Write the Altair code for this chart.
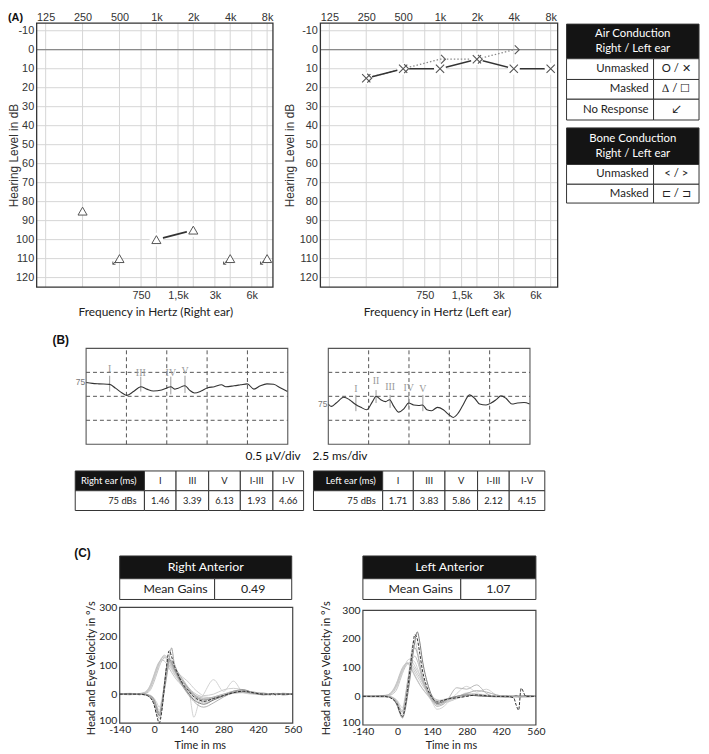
import altair as alt
import pandas as pd

# ============================ DATA ============================
# (A) pure-tone audiograms
FREQ_MAIN = [125, 250, 500, 1000, 2000, 4000, 8000]
FREQ_MID = [750, 1500, 3000, 6000]
DB_TICKS = [-10, 0, 10, 20, 30, 40, 50, 60, 70, 80, 90, 100, 110, 120]

RIGHT_FREQ = [250, 500, 1000, 2000, 4000, 8000]
RIGHT_DB = [85, 110, 100, 95, 110, 110]
RIGHT_NO_RESPONSE = [False, True, False, False, True, True]
RIGHT_JOINED = [False, False, True, True, False, False]

LEFT_AIR_FREQ = [250, 500, 1000, 2000, 4000, 8000]
LEFT_AIR_DB = [15, 10, 10, 5, 10, 10]
LEFT_BONE_FREQ = [250, 500, 1000, 2000, 4000]
LEFT_BONE_DB = [15, 10, 5, 5, 0]

AIR_TITLE = "Air Conduction\nRight / Left ear"
AIR_LABELS = ["Unmasked", "Masked", "No Response"]
AIR_SYMBOLS = ["O / ✕", "∆ / ☐", "↙"]
BONE_TITLE = "Bone Conduction\nRight / Left ear"
BONE_LABELS = ["Unmasked", "Masked"]
BONE_SYMBOLS = ["< / >", "⊏ / ⊐"]

# (B) auditory brainstem responses
ABR_LEVEL = "75"
ABR_DIV_MS = [2.5, 5.0, 7.5, 10.0]
ABR_DIV_UV = [-0.5, 0.0, 0.5]
ABR_R_MS = [0.0, 0.39, 0.80, 1.46, 1.82, 2.23, 2.53, 2.94, 3.39, 3.76, 4.17, 4.68, 5.04,
            5.25, 5.49, 5.70, 6.13, 6.41, 6.72, 7.13, 7.54, 7.95, 8.39, 8.66, 9.17, 9.58,
            9.99, 10.40, 10.80, 11.21, 11.62, 12.03, 12.48]
ABR_R_UV = [0.29, 0.27, 0.26, 0.25, 0.17, 0.07, 0.02, 0.10, 0.20, 0.15, 0.11, 0.13, 0.18,
            0.20, 0.15, 0.17, 0.22, 0.13, 0.07, 0.11, 0.18, 0.20, 0.24, 0.20, 0.22, 0.24,
            0.26, 0.15, 0.22, 0.26, 0.25, 0.18, 0.10]
ABR_R_PEAKS = ["I", "III", "IV", "V"]
ABR_R_PEAK_MS = [1.46, 3.39, 5.25, 6.13]
ABR_R_PEAK_LABEL = [0.57, 0.48, 0.48, 0.52]
ABR_R_PEAK_TOP = [0.43, 0.41, 0.41, 0.43]
ABR_R_PEAK_BOTTOM = [0.10, 0.10, 0.04, 0.07]

ABR_L_MS = [0.0, 0.18, 0.49, 0.96, 1.31, 1.65, 2.02, 2.39, 2.74, 2.96, 3.25, 3.55, 3.80,
            4.06, 4.37, 4.68, 4.98, 5.29, 5.60, 5.84, 6.11, 6.41, 6.76, 7.13, 7.43, 7.74,
            8.05, 8.35, 8.76, 9.07, 9.38, 9.78, 10.09, 10.40, 10.70, 11.01, 11.38, 11.72,
            12.13, 12.48]
ABR_L_UV = [-0.16, -0.21, -0.14, -0.02, -0.07, -0.16, -0.23, -0.28, -0.11, 0.00, -0.07,
            -0.11, -0.07, -0.21, -0.33, -0.26, -0.14, -0.18, -0.19, -0.18, -0.28, -0.30,
            -0.23, -0.28, -0.37, -0.44, -0.35, -0.18, 0.03, -0.04, -0.16, -0.18, -0.14,
            -0.07, 0.01, -0.04, -0.16, -0.14, -0.13, -0.16]
ABR_L_PEAKS = ["I", "II", "III", "IV", "V"]
ABR_L_PEAK_MS = [1.71, 2.96, 3.83, 4.98, 5.86]
ABR_L_PEAK_LABEL = [0.15, 0.31, 0.20, 0.18, 0.15]
ABR_L_PEAK_TOP = [0.03, 0.13, 0.03, 0.03, 0.03]
ABR_L_PEAK_BOTTOM = [-0.31, -0.14, -0.24, -0.24, -0.31]

ABR_COLUMNS = ["I", "III", "V", "I-III", "I-V"]
ABR_RIGHT_LAT = [1.46, 3.39, 6.13, 1.93, 4.66]
ABR_LEFT_LAT = [1.71, 3.83, 5.86, 2.12, 4.15]

# (C) video head impulse test
VHIT_T = [-140, -100, -60, -40, -20, 0, 10, 20, 30, 40, 50, 60, 70, 80, 90, 100, 120, 140,
          160, 180, 200, 240, 280, 320, 360, 400, 440, 470, 480, 490, 500, 520, 560]
VHIT_X_TICKS = [-140, 0, 140, 280, 420, 560]
VHIT_Y_TICKS = [-100, 0, 100, 200, 300]

RA_TRACES = {
    "head 1": [0, 2, 0, 3, 15, 55, 80, 105, 125, 135, 130, 115, 95, 80, 68, 55, 35, 15, 0, -10, -15, -10, 0, 5, 8, 3, 0, 2, 0, -2, 0, -2, 0],
    "head 2": [-2, 0, 2, 5, 20, 65, 90, 110, 125, 128, 120, 100, 85, 70, 58, 45, 20, 0, -15, -25, -30, -20, -8, 5, 10, 5, 0, -2, 2, 0, -2, 0, 2],
    "head 3": [3, -2, 0, 2, 10, 45, 70, 95, 115, 125, 128, 118, 100, 85, 72, 60, 38, 20, 5, -5, -10, -12, -5, 3, 5, 2, -3, 0, 2, 3, 0, 3, 0],
    "head 4": [0, 1, -1, 4, 18, 60, 85, 108, 122, 132, 125, 110, 92, 75, 62, 50, 25, 5, -8, -18, -25, -18, -5, 8, 12, 6, 2, 0, -2, 0, 3, -3, 1],
    "head 5": [0, 0, 2, 6, 25, 70, 95, 112, 118, 115, 105, 90, 75, 62, 50, 40, 25, 10, -2, -10, -15, -12, -4, 4, 6, 2, 0, -2, 0, 0, -2, 0, 0],
    "eye 1": [0, 0, 0, -2, -10, -40, -75, -100, -60, 20, 100, 150, 130, 100, 80, 60, 30, 10, -10, -20, -25, -15, -5, 5, 10, 5, 0, 0, 2, -2, 0, 0, 0],
    "eye 2": [0, 2, -2, 0, -8, -30, -55, -75, -40, 30, 95, 120, 110, 90, 72, 55, 25, 0, -20, -30, -35, -20, -5, 10, 15, 5, -2, 0, 2, 0, 2, 0, 0],
    "eye 3": [2, 0, 0, -3, -5, -25, -50, -70, -50, 10, 80, 115, 105, 85, 68, 50, 20, -5, -25, -40, -45, -30, -10, 5, 10, 8, 0, -2, 0, 2, 0, -2, 0],
    "eye 4": [0, -2, 2, 0, -6, -35, -65, -85, -55, 15, 85, 125, 115, 95, 82, 70, 45, 20, 0, -15, -20, -10, 0, 10, 12, 5, 3, 0, -2, 0, 2, -2, 0],
    "eye 5": [0, 0, -2, 2, -4, -20, -40, -55, -30, 25, 70, 95, 90, 75, 60, 50, 30, 10, -80, -30, 0, 50, 10, 45, 5, 0, 5, 0, 3, -2, 0, 2, -2],
    "eye 6": [0, 3, 0, -2, -3, -15, -30, -45, -20, 30, 75, 100, 95, 85, 80, 70, 55, 40, 20, 5, -5, 0, 15, 20, 15, 5, 0, 0, 0, -3, 0, 3, 0],
    "eye 7": [0, 0, 0, 0, -5, -20, -45, -65, -35, 10, 60, 120, 160, 110, 85, 65, 40, 15, -5, -15, -20, -15, -5, 5, 8, 2, 0, -2, 0, 0, 2, 0, 0],
}
LA_TRACES = {
    "head 1": [0, 2, 0, 3, 12, 40, 65, 88, 105, 115, 112, 100, 85, 70, 55, 40, 15, -5, -15, -12, -8, 0, 5, 3, 0, 2, 0, -2, 0, 2, 0, -2, 0],
    "head 2": [-2, 0, 3, 5, 18, 50, 75, 95, 110, 118, 110, 92, 75, 58, 42, 28, 5, -15, -25, -20, -10, 0, 8, 5, 2, 0, -3, 0, 2, 0, -2, 0, 0],
    "head 3": [2, -2, 0, 2, 8, 30, 55, 80, 100, 112, 118, 108, 95, 80, 65, 50, 22, 0, -12, -15, -10, -3, 3, 6, 2, -2, 0, 3, 0, -3, 2, 0, 2],
    "head 4": [0, 0, -2, 4, 15, 45, 70, 92, 108, 125, 130, 120, 105, 90, 75, 55, 25, 2, -18, -22, -15, -5, 12, 8, 3, 0, 2, 0, -2, 0, 0, 3, 0],
    "head 5": [0, 1, 2, 5, 20, 55, 80, 100, 112, 115, 105, 88, 70, 55, 40, 28, 8, -8, -18, -22, -20, -8, 2, 5, 0, -2, 0, 0, 2, 0, -3, 0, 0],
    "eye 1": [0, 0, 0, -2, -10, -30, -55, -70, -40, 20, 90, 160, 215, 200, 150, 95, 30, -5, -20, -15, -10, -5, 0, 5, 2, 0, 0, -5, -30, -48, 28, 0, 0],
    "eye 2": [0, 0, 2, 0, -8, -35, -60, -75, -50, 0, 60, 130, 190, 225, 190, 130, 50, 0, -25, -20, -10, 0, 5, 2, 0, 0, -2, 0, 3, 0, 0, 2, 0],
    "eye 3": [2, 0, -2, 0, -5, -25, -45, -55, -20, 40, 100, 150, 170, 150, 110, 70, 20, -10, -30, -25, -12, -2, 10, 20, 15, 5, 0, 0, -2, 0, 0, -2, 0],
    "eye 4": [0, 2, 0, -3, -6, -20, -40, -50, -15, 45, 95, 130, 140, 125, 95, 60, 15, -15, -35, -30, -15, 30, 25, 40, 10, 0, 3, 0, 0, -2, 2, 0, 0],
    "eye 5": [0, -2, 3, 0, -4, -15, -30, -40, -5, 50, 100, 125, 120, 100, 75, 50, 12, -20, -45, -40, -25, 10, 35, 15, 25, 5, 0, 2, 0, 0, -2, 0, 3],
    "eye 6": [0, 0, 0, 2, -3, -25, -50, -65, -30, 30, 110, 175, 195, 160, 115, 75, 25, -8, -28, -30, -18, -5, 0, 8, 5, 0, 0, -2, 0, 2, 0, 0, 0],
}
GAIN_RIGHT = 0.49
GAIN_LEFT = 1.07

# ============================ STYLE / LAYOUT ============================
W, H = 701, 746
GRID = "#d6d6d6"
TXT = "#222222"
F_LO = 105.6
DB_DOMAIN = [-14, 125]
A_TOP, A_BOT = 11, 278
ABR_TOP, ABR_BOT = 340, 437

ARROW_PATH = "M-0.66,0.46L-1.34,1.14M-1.34,1.14L-1.34,0.6M-1.34,1.14L-0.8,1.14"
X_PATH = "M-1,-1L1,1M-1,1L1,-1"
GT_PATH = "M0.2,-0.9L1.1,0L0.2,0.9"

TRACE_STYLE = {
    "head 1": ("#c6c6c6", "light"), "head 2": ("#c6c6c6", "light"),
    "head 3": ("#bdbdbd", "light"), "head 4": ("#c6c6c6", "light"),
    "head 5": ("#bdbdbd", "light"), "eye 5": ("#cdcdcd", "light"),
    "eye 6": ("#c9c9c9", "light"), "eye 3": ("#a6a6a6", "mid"),
    "eye 4": ("#b0b0b0", "mid"), "eye 7": ("#9a9a9a", "mid"),
    "eye 2": ("#6e6e6e", "mid"), "eye 1": ("#2e2e2e", "dark"),
}

ONE = pd.DataFrame({"k": [0]})


def audiogram(x0, x1, f_hi, y_title_x, x_title_cx, x_title):
    xs = alt.Scale(type="log", domain=[F_LO, f_hi], range=[x0, x1], nice=False)
    ys = alt.Scale(domain=DB_DOMAIN, range=[A_TOP, A_BOT], nice=False, zero=False)
    lab = dict(grid=False, domain=False, ticks=False, labelFont="Liberation Sans",
               labelFontSize=11, labelColor="#333", labelFlush=False, labelOverlap=False)
    kexpr = "datum.value < 1000 ? '' + datum.value : replace('' + datum.value / 1000, '.', ',') + 'k'"
    hgrid = alt.Chart(pd.DataFrame({"db": DB_TICKS})).mark_rule(color=GRID, strokeWidth=1).encode(
        x=alt.XDatum(F_LO, scale=xs, axis=None), x2=alt.X2Datum(f_hi),
        y=alt.Y("db:Q", scale=ys, axis=alt.Axis(
            orient="left", offset=-x0, values=DB_TICKS, labelExpr="'' + datum.value", labelPadding=3,
            title="Hearing Level in dB", titleFont="Liberation Sans", titleFontSize=12,
            titleFontWeight="normal", titleColor="#333", titleAngle=270, titleAlign="center",
            titleBaseline="middle", titleX=y_title_x - x0, titleY=(A_TOP + A_BOT) / 2, **lab)))
    vgrid = alt.Chart(pd.DataFrame({"f": FREQ_MAIN})).mark_rule(color=GRID, strokeWidth=1).encode(
        x=alt.X("f:Q", scale=xs, axis=alt.Axis(
            orient="top", offset=-A_TOP, values=FREQ_MAIN, labelExpr=kexpr, labelPadding=1,
            title=None, **lab)),
        y=alt.YDatum(DB_DOMAIN[0], scale=ys, axis=None), y2=alt.Y2Datum(DB_DOMAIN[1]))
    vgrid2 = alt.Chart(pd.DataFrame({"f": FREQ_MID})).mark_rule(color=GRID, strokeWidth=1).encode(
        x=alt.X("f:Q", scale=xs, axis=alt.Axis(
            orient="bottom", offset=A_BOT - H, values=FREQ_MID, labelExpr=kexpr, labelPadding=3,
            title=x_title, titleFont="Lato", titleFontSize=12, titleFontWeight="normal",
            titleColor=TXT, titleX=x_title_cx, titleY=303 - A_BOT, titleAlign="center",
            titleBaseline="middle", **lab)),
        y=alt.YDatum(DB_DOMAIN[0], scale=ys, axis=None), y2=alt.Y2Datum(DB_DOMAIN[1]))
    zero = alt.Chart(ONE).mark_rule(color="#8a8a8a", strokeWidth=1.3).encode(
        x=alt.XDatum(F_LO, scale=xs, axis=None), x2=alt.X2Datum(f_hi),
        y=alt.YDatum(0, scale=ys, axis=None))
    frame = alt.Chart(ONE).mark_rect(fillOpacity=0, stroke="#333", strokeWidth=1.3).encode(
        x=alt.XDatum(F_LO, scale=xs, axis=None), x2=alt.X2Datum(f_hi),
        y=alt.YDatum(DB_DOMAIN[0], scale=ys, axis=None), y2=alt.Y2Datum(DB_DOMAIN[1]))
    return xs, ys, [hgrid, vgrid, vgrid2, zero], frame


# ---- right audiogram
xs, ys, base_layers, frame = audiogram(29, 268, 8925, 6, 149, "Frequency in Hertz (Right ear)")
rdf = pd.DataFrame({"f": RIGHT_FREQ, "db": RIGHT_DB, "nr": RIGHT_NO_RESPONSE, "j": RIGHT_JOINED})
rbase = alt.Chart(rdf).encode(x=alt.X("f:Q", scale=xs, axis=None), y=alt.Y("db:Q", scale=ys, axis=None))
r_layers = base_layers + [
    rbase.transform_filter("datum.j").mark_line(color="#333", strokeWidth=1.6),
    rbase.transform_filter("datum.j").mark_point(shape="circle", filled=True, color="white", opacity=1, size=190),
    rbase.mark_point(shape="triangle-up", filled=True, fill="white", stroke="#555", strokeWidth=1, opacity=1, size=85),
    rbase.transform_filter("datum.nr").mark_point(shape=ARROW_PATH, filled=False, stroke="#555", strokeWidth=1, opacity=1, size=100),
    frame,
]
aud_right = alt.layer(*r_layers).resolve_axis(x="independent", y="independent")

# ---- left audiogram
xs, ys, base_layers, frame = audiogram(316, 556, 9120, 285, 434, "Frequency in Hertz (Left ear)")
air = alt.Chart(pd.DataFrame({"f": LEFT_AIR_FREQ, "db": LEFT_AIR_DB})).encode(
    x=alt.X("f:Q", scale=xs, axis=None), y=alt.Y("db:Q", scale=ys, axis=None))
bone = alt.Chart(pd.DataFrame({"f": LEFT_BONE_FREQ, "db": LEFT_BONE_DB})).encode(
    x=alt.X("f:Q", scale=xs, axis=None), y=alt.Y("db:Q", scale=ys, axis=None))
l_layers = base_layers + [
    bone.mark_line(color="#8a8a8a", strokeWidth=1.3, strokeDash=[1.5, 2]),
    air.mark_line(color="#333", strokeWidth=1.6),
    air.mark_point(shape="circle", filled=True, color="white", opacity=1, size=150),
    air.mark_point(shape=X_PATH, filled=False, stroke="#555", strokeWidth=1.1, opacity=1, size=70),
    bone.mark_point(shape=GT_PATH, filled=False, stroke="#555", strokeWidth=1.1, opacity=1, size=100),
    frame,
]
aud_left = alt.layer(*l_layers).resolve_axis(x="independent", y="independent")


# ---- tables
def table(x_left, y_top, col_w, row_h, cells, font_size, pad, line_height=15):
    ce = [0]
    for w in col_w:
        ce.append(ce[-1] + w)
    re_ = [0]
    for h in row_h:
        re_.append(re_[-1] + h)
    xs_ = alt.Scale(domain=[0, ce[-1]], range=[x_left, x_left + ce[-1]], nice=False, zero=False)
    ys_ = alt.Scale(domain=[0, re_[-1]], range=[y_top, y_top + re_[-1]], nice=False, zero=False)
    recs, trecs = [], []
    for r, c0, c1, text, dark, align in cells:
        x0, x1 = ce[c0], ce[c1]
        tx = {"left": x0 + pad, "center": (x0 + x1) / 2, "right": x1 - pad}[align]
        recs.append(dict(x0=x0, x1=x1, y0=re_[r], y1=re_[r + 1],
                         fill="#141414" if dark else "#ffffff"))
        lines = text.split("\n")
        cy = (re_[r] + re_[r + 1]) / 2
        for k, ln in enumerate(lines):
            trecs.append(dict(tx=tx, ty=cy + (k - (len(lines) - 1) / 2) * line_height, text=ln,
                              tc="#ffffff" if dark else TXT, align=align))
    df = pd.DataFrame(recs)
    tdf = pd.DataFrame(trecs)
    rect = alt.Chart(df).mark_rect(stroke="#333", strokeWidth=1).encode(
        x=alt.X("x0:Q", scale=xs_, axis=None), x2="x1:Q",
        y=alt.Y("y0:Q", scale=ys_, axis=None), y2="y1:Q",
        fill=alt.Fill("fill:N", scale=None))
    layers = [rect]
    for al in ["left", "center", "right"]:
        sub = tdf[tdf["align"] == al]
        if len(sub):
            layers.append(alt.Chart(sub).mark_text(
                align=al, baseline="middle", font="Lato", fontSize=font_size).encode(
                x=alt.X("tx:Q", scale=xs_, axis=None), y=alt.Y("ty:Q", scale=ys_, axis=None),
                text="text:N", color=alt.Color("tc:N", scale=None)))
    return alt.layer(*layers)


air_cells = [(0, 0, 2, AIR_TITLE, True, "center")]
for i, (lab, sym) in enumerate(zip(AIR_LABELS, AIR_SYMBOLS)):
    air_cells += [(i + 1, 0, 1, lab, False, "right"), (i + 1, 1, 2, sym, False, "center")]
bone_cells = [(0, 0, 2, BONE_TITLE, True, "center")]
for i, (lab, sym) in enumerate(zip(BONE_LABELS, BONE_SYMBOLS)):
    bone_cells += [(i + 1, 0, 1, lab, False, "right"), (i + 1, 1, 2, sym, False, "center")]
legend_air = table(565, 12, [88, 46], [35, 21, 20, 21], air_cells, 11.5, 5)
legend_bone = table(565, 117, [88, 46], [37, 20, 19], bone_cells, 11.5, 5)


def abr_cells(ear):
    lat = ABR_RIGHT_LAT if ear == "Right" else ABR_LEFT_LAT
    cells = [(0, 0, 1, f"{ear} ear (ms)", True, "right"), (1, 0, 1, f"{ABR_LEVEL} dBs", False, "right")]
    for i, (c, v) in enumerate(zip(ABR_COLUMNS, lat)):
        cells += [(0, i + 1, i + 2, c, False, "center"), (1, i + 1, i + 2, f"{v:.2f}", False, "center")]
    return cells


abr_tab_r = table(68, 464, [70, 32, 33, 32, 33, 31], [20, 20], abr_cells("Right"), 9.5, 8)
abr_tab_l = table(309, 464, [70, 31, 32, 33, 32, 36], [20, 20], abr_cells("Left"), 9.5, 7)

gain_r = table(113, 550, [96, 78], [23, 21],
               [(0, 0, 2, "Right Anterior", True, "center"), (1, 0, 1, "Mean Gains", False, "right"),
                (1, 1, 2, f"{GAIN_RIGHT:.2f}", False, "center")], 12.5, 7)
gain_l = table(359, 550, [99, 76], [23, 21],
               [(0, 0, 2, "Left Anterior", True, "center"), (1, 0, 1, "Mean Gains", False, "right"),
                (1, 1, 2, f"{GAIN_LEFT:.2f}", False, "center")], 12.5, 8)


# ---- ABR waveforms
def abr(x0, x1, ms, uv, names, pms, plab, ptop, pbot):
    xs_ = alt.Scale(domain=[0, 12.5], range=[x0, x1], nice=False, zero=False)
    ys_ = alt.Scale(domain=[-1, 1], range=[ABR_BOT, ABR_TOP], nice=False, zero=False)
    vd = alt.Chart(pd.DataFrame({"t": ABR_DIV_MS})).mark_rule(color="#555", strokeWidth=1, strokeDash=[4, 3]).encode(
        x=alt.X("t:Q", scale=xs_, axis=None), y=alt.YDatum(-1, scale=ys_, axis=None), y2=alt.Y2Datum(1))
    hd = alt.Chart(pd.DataFrame({"u": ABR_DIV_UV})).mark_rule(color="#555", strokeWidth=1, strokeDash=[4, 3]).encode(
        y=alt.Y("u:Q", scale=ys_, axis=None), x=alt.XDatum(0, scale=xs_, axis=None), x2=alt.X2Datum(12.5))
    trace = alt.Chart(pd.DataFrame({"t": ms, "u": uv})).mark_line(
        color="#333", strokeWidth=1.1, interpolate="monotone").encode(
        x=alt.X("t:Q", scale=xs_, axis=None), y=alt.Y("u:Q", scale=ys_, axis=None))
    pk = pd.DataFrame({"n": names, "t": pms, "lab": plab, "top": ptop, "bot": pbot})
    marks = alt.Chart(pk).mark_rule(color="#9a9a9a", strokeWidth=1).encode(
        x=alt.X("t:Q", scale=xs_, axis=None), y=alt.Y("top:Q", scale=ys_, axis=None), y2="bot:Q")
    labs = alt.Chart(pk).mark_text(font="Liberation Serif", fontSize=10, color="#999", baseline="middle").encode(
        x=alt.X("t:Q", scale=xs_, axis=None), y=alt.Y("lab:Q", scale=ys_, axis=None), text="n:N")
    lvl = alt.Chart(pd.DataFrame({"t": [ms[0]], "u": [uv[0]], "s": [ABR_LEVEL]})).mark_text(
        align="right", baseline="middle", dx=-1, font="Liberation Sans", fontSize=8.5, color="#777").encode(
        x=alt.X("t:Q", scale=xs_, axis=None), y=alt.Y("u:Q", scale=ys_, axis=None), text="s:N")
    frame = alt.Chart(ONE).mark_rect(fillOpacity=0, stroke="#555", strokeWidth=1.1).encode(
        x=alt.XDatum(0, scale=xs_, axis=None), x2=alt.X2Datum(12.5),
        y=alt.YDatum(-1, scale=ys_, axis=None), y2=alt.Y2Datum(1))
    return alt.layer(vd, hd, marks, labs, trace, lvl, frame)


abr_r = abr(79, 283, ABR_R_MS, ABR_R_UV, ABR_R_PEAKS, ABR_R_PEAK_MS, ABR_R_PEAK_LABEL, ABR_R_PEAK_TOP, ABR_R_PEAK_BOTTOM)
abr_l = abr(324, 528, ABR_L_MS, ABR_L_UV, ABR_L_PEAKS, ABR_L_PEAK_MS, ABR_L_PEAK_LABEL, ABR_L_PEAK_TOP, ABR_L_PEAK_BOTTOM)


# ---- vHIT
def vhit(traces, x0, x1, y_top, y_bot, y_title_x, x_title_cx):
    xs_ = alt.Scale(domain=[-140, 560], range=[x0, x1], nice=False, zero=False)
    ys_ = alt.Scale(domain=[-100, 300], range=[y_bot, y_top], nice=False, zero=False)
    rows = []
    for name, vals in traces.items():
        col, grp = TRACE_STYLE[name]
        for t, v in zip(VHIT_T, vals):
            rows.append({"trace": name, "t": t, "v": v, "c": col, "g": grp})
    df = pd.DataFrame(rows)
    common = dict(grid=False, domain=False, ticks=False, labelFont="Lato", labelFontSize=10.5,
                  labelColor=TXT, labelFlush=False, labelOverlap=False, titleFont="Lato",
                  titleFontSize=11, titleFontWeight="normal", titleColor=TXT,
                  titleAlign="center", titleBaseline="middle")
    xax = alt.Axis(orient="bottom", offset=y_bot - H, values=VHIT_X_TICKS, labelPadding=2,
                   labelExpr="'' + datum.value",
                   title="Time in ms", titleX=x_title_cx, titleY=742 - y_bot, **common)
    yax = alt.Axis(orient="left", offset=-x0, values=VHIT_Y_TICKS, labelExpr="'' + abs(datum.value)",
                   labelBaseline={"condition": {"test": "datum.value == -100", "value": "alphabetic"},
                                  "value": "middle"},
                   labelPadding=3, title="Head and Eye Velocity in °/s", titleAngle=270,
                   titleX=y_title_x - x0, titleY=663, **common)
    layers = []
    for grp, dash, sw in [("light", None, 0.9), ("mid", None, 0.9), ("dark", [3, 1.5], 1.0)]:
        sub = df[df["g"] == grp]
        mk = dict(strokeWidth=sw, interpolate="monotone")
        if dash:
            mk["strokeDash"] = dash
        first = len(layers) == 0
        layers.append(alt.Chart(sub).mark_line(**mk).encode(
            x=alt.X("t:Q", scale=xs_, axis=xax if first else None),
            y=alt.Y("v:Q", scale=ys_, axis=yax if first else None),
            detail="trace:N", color=alt.Color("c:N", scale=None)))
    frame = alt.Chart(ONE).mark_rect(fillOpacity=0, stroke="#444", strokeWidth=1.2).encode(
        x=alt.XDatum(-140, scale=xs_, axis=None), x2=alt.X2Datum(560),
        y=alt.YDatum(-100, scale=ys_, axis=None), y2=alt.Y2Datum(300))
    layers.append(frame)
    return alt.layer(*layers).resolve_axis(x="independent", y="independent")


vhit_r = vhit(RA_TRACES, 113, 288, 602, 719, 84, 194)
vhit_l = vhit(LA_TRACES, 359, 534, 605, 721, 322, 448)


# ---- annotations
def note(text, px, py, align, size, weight="normal", font="Lato"):
    return alt.Chart(ONE).mark_text(align=align, baseline="middle", font=font, fontSize=size,
                                    fontWeight=weight, color="#111").encode(
        x=alt.value(px), y=alt.value(py), text=alt.value(text))


notes = [
    note("(A)", 0, 6, "left", 11, "bold", "Liberation Sans"),
    note("(B)", 45, 332, "left", 12, "bold", "Liberation Sans"),
    note("(C)", 67, 547, "left", 12, "bold", "Liberation Sans"),
    note("0.5 µV/div", 296, 449, "right", 12),
    note("2.5 ms/div", 308, 449, "left", 12),
]

chart = alt.layer(
    aud_right, aud_left, legend_air, legend_bone,
    abr_r, abr_l, abr_tab_r, abr_tab_l,
    gain_r, gain_l, vhit_r, vhit_l, *notes,
).resolve_scale(x="independent", y="independent").properties(
    width=W, height=H, padding=0, background="white",
    autosize=alt.AutoSizeParams(type="none"),
).configure_view(stroke=None)

chart.save("out.html", embed_options={"renderer": "svg", "actions": False})
